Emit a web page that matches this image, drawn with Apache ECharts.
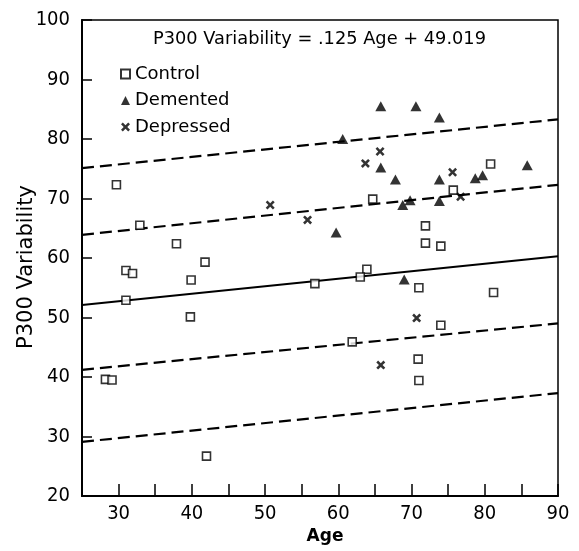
<!DOCTYPE html>
<html>
<head>
<meta charset="utf-8">
<script src="https://cdn.jsdelivr.net/npm/echarts@6/dist/echarts.min.js"></script>
<style>
html,body{margin:0;padding:0;background:#fff;}
#chart{width:579px;height:551px;}
</style>
</head>
<body>
<div id="chart"></div>
<script>
// ---- data ----
const controlAge   = [29.7, 32.9, 37.9, 41.8, 31.0, 31.9, 39.9, 31.0, 39.8, 28.2, 29.1, 42.0, 56.8, 64.7, 71.9, 71.9, 74.0, 63.9, 63.0, 71.0, 80.8, 75.7, 81.2, 74.0, 61.9, 70.9, 71.0];
const controlP300  = [72.3, 65.5, 62.4, 59.3, 57.9, 57.4, 56.3, 52.9, 50.1, 39.6, 39.5, 26.7, 55.7, 69.9, 65.4, 62.5, 62.0, 58.1, 56.8, 55.0, 75.8, 71.4, 54.2, 48.7, 45.9, 43.0, 39.4];
const dementedAge  = [60.6, 65.8, 67.8, 73.8, 69.8, 68.8, 73.8, 59.7, 69.0, 65.8, 70.6, 73.8, 85.8, 78.7, 79.7];
const dementedP300 = [80.0, 75.2, 73.2, 73.2, 69.7, 68.9, 69.6, 64.3, 56.4, 85.5, 85.5, 83.6, 75.6, 73.4, 73.9];
const depressedAge  = [50.7, 55.8, 65.7, 63.7, 75.6, 76.7, 70.7, 65.8];
const depressedP300 = [68.9, 66.4, 77.9, 75.9, 74.4, 70.3, 49.9, 42.0];

// regression and band lines (values at the two ends of the age axis)
const lineAges = [25, 90];
const fitLine  = [52.1, 60.3];
const upper2   = [75.1, 83.3];
const upper1   = [63.9, 72.3];
const lower1   = [41.2, 49.0];
const lower2   = [29.1, 37.3];

const xTicks = [30, 40, 50, 60, 70, 80, 90];
const titleText = 'P300 Variability = .125 Age + 49.019';

// ---- build ----
const zip = (a, b) => a.map((v, i) => [v, b[i]]);
const FONT = "'DejaVu Sans',sans-serif";
const FONT_C = "'DejaVu Sans Condensed','DejaVu Sans',sans-serif";
const crossPath = 'path://M0,2L2,0L5,3L8,0L10,2L7,5L10,8L8,10L5,7L2,10L0,8L3,5Z';

function bandLine(vals, dashed, w) {
  return {
    type: 'line', data: zip(lineAges, vals), symbol: 'none', silent: true,
    lineStyle: { color: '#000', width: w, type: dashed ? [12, 6] : 'solid' },
    z: 1
  };
}

const chart = echarts.init(document.getElementById('chart'), null, { renderer: 'canvas' });
chart.setOption({
  backgroundColor: '#fff',
  animation: false,
  textStyle: { fontFamily: FONT },
  title: {
    text: titleText, left: 148, top: 25,
    textStyle: { fontFamily: FONT, fontSize: 17.8, fontWeight: 'normal', color: '#000' }
  },
  legend: {
    orient: 'vertical', left: 115, top: 60, itemGap: 8.5,
    itemWidth: 9, itemHeight: 9,
    textStyle: { fontFamily: FONT, fontSize: 18, color: '#000' },
    data: ['Control', 'Demented', 'Depressed']
  },
  grid: { left: 82, right: 21, top: 20, bottom: 55, show: true, borderColor: '#000', borderWidth: 1.5, containLabel: false },
  xAxis: {
    type: 'value', min: 25, max: 90, interval: 5,
    name: 'Age', nameLocation: 'middle', nameGap: 32, nameMoveOverlap: false,
    nameTextStyle: { fontFamily: FONT, fontSize: 17, fontWeight: 'bold', color: '#000', padding: [0, 0, 0, 10] },
    axisLine: { lineStyle: { color: '#000', width: 2 } },
    axisTick: { inside: true, length: 12, lineStyle: { color: '#000', width: 1.5 } },
    axisLabel: {
      fontFamily: FONT_C, fontSize: 20, color: '#000', margin: 8,
      formatter: v => xTicks.indexOf(v) >= 0 ? String(v) : ''
    },
    splitLine: { show: false }
  },
  yAxis: {
    type: 'value', min: 20, max: 100, interval: 10,
    name: 'P300 Variability', nameLocation: 'middle', nameGap: 45, nameMoveOverlap: false,
    nameTextStyle: { fontFamily: FONT, fontSize: 21, color: '#000', padding: [0, 18, 0, 0] },
    axisLine: { lineStyle: { color: '#000', width: 2 } },
    axisTick: { inside: true, length: 10, lineStyle: { color: '#000', width: 1.5 } },
    axisLabel: { fontFamily: FONT_C, fontSize: 20, color: '#000', margin: 12 },
    splitLine: { show: false }
  },
  series: [
    {
      name: 'Control', type: 'scatter', data: zip(controlAge, controlP300),
      symbol: 'rect', symbolSize: 8,
      itemStyle: { color: '#fff', borderColor: '#000', borderWidth: 1.6 }, z: 3
    },
    {
      name: 'Demented', type: 'scatter', data: zip(dementedAge, dementedP300),
      symbol: 'triangle', symbolSize: [11, 10],
      itemStyle: { color: '#000' }, z: 3
    },
    {
      name: 'Depressed', type: 'scatter', data: zip(depressedAge, depressedP300),
      symbol: crossPath, symbolSize: 9,
      itemStyle: { color: '#000' }, z: 3
    },
    bandLine(fitLine, false, 2),
    bandLine(upper2, true, 2.2),
    bandLine(upper1, true, 2.2),
    bandLine(lower1, true, 2.2),
    bandLine(lower2, true, 2.2)
  ]
});
</script>
</body>
</html>
